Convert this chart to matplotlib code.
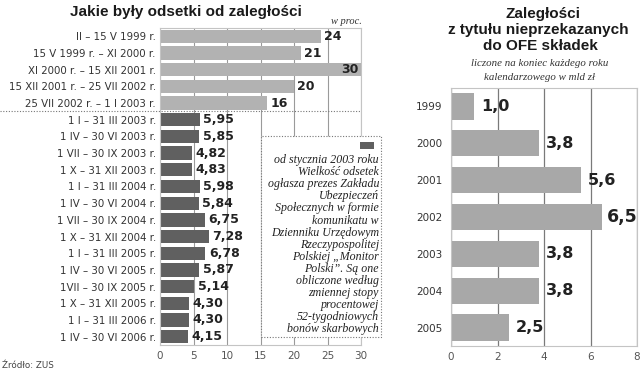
import matplotlib
matplotlib.use("Agg")
import matplotlib.pyplot as plt
from matplotlib.patches import Rectangle
import matplotlib.transforms as mtransforms

# --- dane: odsetki od zaległości (w proc.) ---
okresy = ["II – 15 V 1999 r.", "15 V 1999 r. – XI 2000 r.", "XI 2000 r. – 15 XII 2001 r.",
          "15 XII 2001 r. – 25 VII 2002 r.", "25 VII 2002 r. – 1 I 2003 r.",
          "1 I – 31 III 2003 r.", "1 IV – 30 VI 2003 r.", "1 VII – 30 IX 2003 r.",
          "1 X – 31 XII 2003 r.", "1 I – 31 III 2004 r.", "1 IV – 30 VI 2004 r.",
          "1 VII – 30 IX 2004 r.", "1 X – 31 XII 2004 r.", "1 I – 31 III 2005 r.",
          "1 IV – 30 VI 2005 r.", "1VII – 30 IX 2005 r.", "1 X – 31 XII 2005 r.",
          "1 I – 31 III 2006 r.", "1 IV – 30 VI 2006 r."]
odsetki = [24, 21, 30, 20, 16, 5.95, 5.85, 4.82, 4.83, 5.98, 5.84, 6.75, 7.28,
           6.78, 5.87, 5.14, 4.30, 4.30, 4.15]
etykiety_ods = ["24", "21", "30", "20", "16", "5,95", "5,85", "4,82", "4,83", "5,98",
                "5,84", "6,75", "7,28", "6,78", "5,87", "5,14", "4,30", "4,30", "4,15"]
n_stale = 5  # pierwsze 5 okresów - stałe stopy

# --- dane: zaległości OFE (mld zł) ---
lata = ["1999", "2000", "2001", "2002", "2003", "2004", "2005"]
zaleglosci = [1.0, 3.8, 5.6, 6.5, 3.8, 3.8, 2.5]
etykiety_zal = ["1,0", "3,8", "5,6", "6,5", "3,8", "3,8", "2,5"]

opis = ["od stycznia 2003 roku", "Wielkość odsetek", "ogłasza prezes Zakładu",
        "Ubezpieczeń", "Społecznych w formie", "komunikatu w", "Dzienniku Urzędowym",
        "Rzeczypospolitej", "Polskiej „Monitor", "Polski”. Są one", "obliczone według",
        "zmiennej stopy", "procentowej", "52-tygodniowych", "bonów skarbowych"]

W, H = 640, 371
fig = plt.figure(figsize=(W / 100, H / 100), dpi=100)
fig.patch.set_facecolor("white")

def fx(px):
    return px / W

def fy(py):
    return 1 - py / H

serif = "Liberation Serif"
label_col = "#333333"
spine_col = "#c4c4c4"

# ================= lewy wykres =================
ax1 = fig.add_axes([fx(160), fy(345), fx(361) - fx(160), fy(28) - fy(345)])
ypos = list(range(len(okresy)))
kolory = ["#b2b2b2"] * n_stale + ["#606060"] * (len(okresy) - n_stale)
ax1.barh(ypos, odsetki, height=0.8, color=kolory, zorder=2)
ax1.set_xlim(0, 30)
ax1.set_ylim(len(okresy) - 0.5, -0.5)
ax1.set_xticks([0, 5, 10, 15, 20, 25, 30])
ax1.set_yticks(ypos)
ax1.set_yticklabels(okresy, fontsize=7.4, color=label_col)
ax1.tick_params(axis="both", length=0)
ax1.tick_params(axis="y", pad=3)
ax1.tick_params(axis="x", labelsize=7.5, labelcolor="#555555", pad=4)
ax1.grid(axis="x", color="#9a9a9a", lw=0.8, zorder=1)
ax1.set_axisbelow(True)
for s in ax1.spines.values():
    s.set_color(spine_col)
    s.set_linewidth(0.8)

for i, (v, t) in enumerate(zip(odsetki, etykiety_ods)):
    if v >= 29:
        ax1.text(v - 0.3, i, t, ha="right", va="center", fontsize=9,
                 fontweight="bold", color="#222222", zorder=3)
    else:
        ax1.text(v + 0.5, i, t, ha="left", va="center", fontsize=9,
                 fontweight="bold", color="#222222", zorder=3)

# kropkowana linia oddzielająca
tr = mtransforms.blended_transform_factory(ax1.transAxes, ax1.transData)
ax1.plot([-160 / 201, 1.0], [n_stale - 0.5, n_stale - 0.5], transform=tr,
         ls=(0, (1, 1.5)), color="#777777", lw=0.8, clip_on=False, zorder=4)

# ramka z opisem
box = Rectangle((fx(261), fy(337)), fx(381) - fx(261), fy(136) - fy(337),
                transform=fig.transFigure, facecolor="white", edgecolor="#777777",
                ls=(0, (1, 1.5)), lw=0.8, zorder=5)
fig.add_artist(box)
fig.add_artist(Rectangle((fx(360), fy(149)), fx(14), fy(0) - fy(7),
                         transform=fig.transFigure, facecolor="#606060",
                         edgecolor="none", zorder=6))
for k, linia in enumerate(opis):
    fig.text(fx(379), fy(160 + k * 12.1), linia, ha="right", va="center",
             fontsize=8.6, family=serif, style="italic", color="#222222", zorder=7)

fig.text(fx(186), fy(12), "Jakie były odsetki od zaległości", ha="center",
         va="center", fontsize=11, fontweight="bold", family="Liberation Sans",
         color="#1a1a1a")
fig.text(fx(362), fy(22), "w proc.", ha="right", va="center", fontsize=7.5,
         family=serif, style="italic", color="#333333")
fig.text(fx(2), fy(365), "Źródło: ZUS", ha="left", va="center", fontsize=6.3,
         color="#444444")

# ================= prawy wykres =================
ax2 = fig.add_axes([fx(451), fy(346), fx(637) - fx(451), fy(88) - fy(346)])
yp2 = list(range(len(lata)))
ax2.barh(yp2, zaleglosci, height=0.71, color="#a8a8a8", zorder=2)
ax2.set_xlim(0, 8)
ax2.set_ylim(len(lata) - 0.5, -0.5)
ax2.set_xticks([0, 2, 4, 6, 8])
ax2.set_yticks(yp2)
ax2.set_yticklabels(lata, fontsize=7.5, color=label_col)
ax2.tick_params(axis="both", length=0)
ax2.tick_params(axis="y", pad=6)
ax2.tick_params(axis="x", labelsize=7.5, labelcolor="#555555", pad=4)
ax2.grid(axis="x", color="#7a7a7a", lw=0.9, zorder=1)
ax2.set_axisbelow(True)
for s in ax2.spines.values():
    s.set_color(spine_col)
    s.set_linewidth(0.8)

for i, (v, t) in enumerate(zip(zaleglosci, etykiety_zal)):
    if v == max(zaleglosci):
        ax2.text(v + 0.22, i, t, ha="left", va="center", fontsize=12.5,
                 fontweight="bold", color="#222222", zorder=3)
    else:
        ax2.text(v + 0.3, i, t, ha="left", va="center", fontsize=11.5,
                 fontweight="bold", color="#222222", zorder=3)

fig.text(fx(543), fy(14), "Zaległości", ha="center", va="center", fontsize=11,
         fontweight="bold", family="Liberation Sans", color="#1a1a1a")
fig.text(fx(538), fy(30), "z tytułu nieprzekazanych", ha="center", va="center",
         fontsize=11, fontweight="bold", family="Liberation Sans", color="#1a1a1a")
fig.text(fx(540), fy(46), "do OFE składek", ha="center", va="center", fontsize=11,
         fontweight="bold", family="Liberation Sans", color="#1a1a1a")
fig.text(fx(540), fy(64), "liczone na koniec każdego roku", ha="center",
         va="center", fontsize=7.8, family=serif, style="italic", color="#333333")
fig.text(fx(540), fy(77), "kalendarzowego w mld zł", ha="center", va="center",
         fontsize=7.8, family=serif, style="italic", color="#333333")

fig.savefig("out.png", dpi=100)
